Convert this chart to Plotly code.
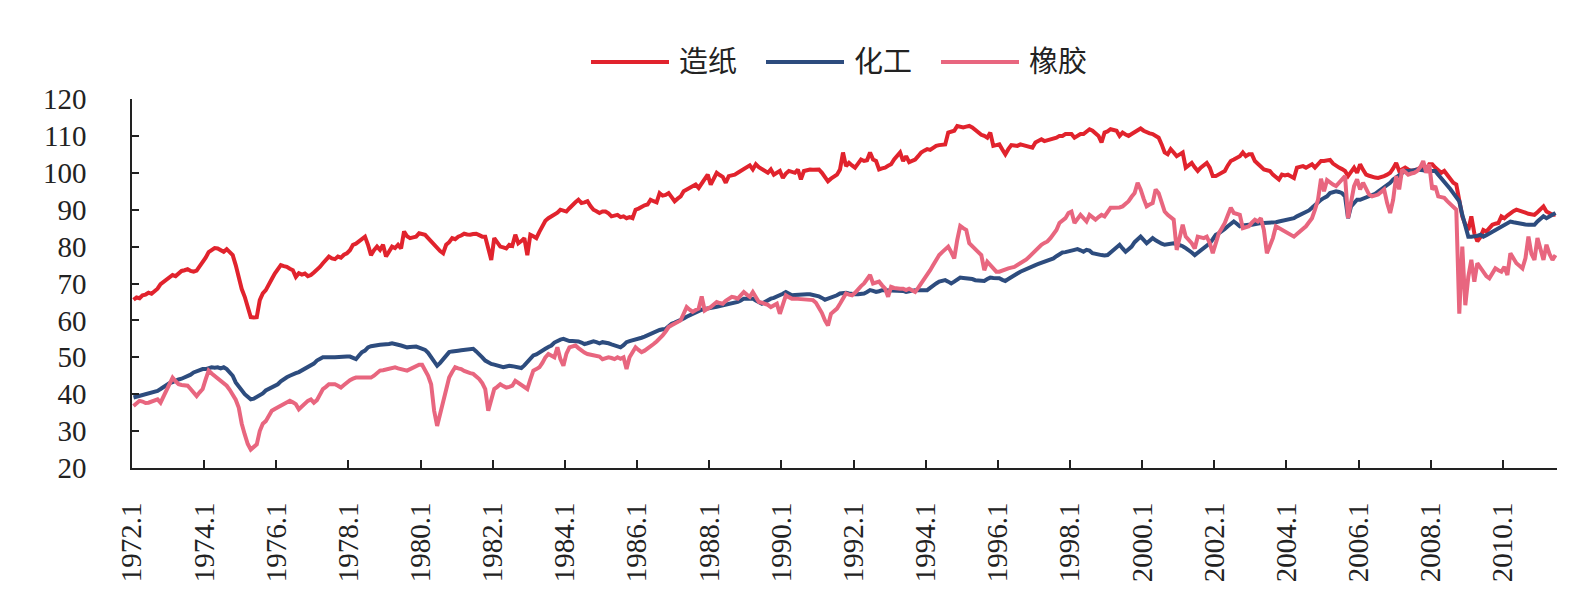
import plotly.graph_objects as go

# ---------------- data (monthly, 1972.1 - 2011.6) ----------------
start_year = 1972
series_names = ["造纸", "化工", "橡胶"]

paper = [
    65.6, 66.2, 66.0, 66.8, 67.0, 67.5, 67.2, 67.9, 68.6, 69.8, 70.5, 71.0,   # 1972
    71.8, 72.3, 72.0, 72.8, 73.4, 73.6, 73.9, 73.4, 73.2, 73.5, 74.6, 75.5,   # 1973
    77.0, 78.5, 79.1, 79.6, 79.5, 79.0, 78.6, 79.3, 78.5, 77.7, 75.0, 71.8,   # 1974
    68.5, 66.4, 63.5, 60.9, 60.8, 60.9, 65.5, 67.3, 68.2, 70.0, 71.2, 72.7,   # 1975
    73.8, 75.0, 74.7, 74.5, 74.0, 73.6, 71.8, 72.8, 72.4, 72.7, 72.0, 72.3,   # 1976
    73.0, 73.6, 74.5, 75.5, 76.5, 77.3, 76.8, 76.6, 77.3, 77.0, 77.8, 78.2,   # 1977
    79.0, 80.5, 80.8, 81.4, 81.8, 82.7, 80.5, 77.7, 79.0, 80.0, 79.1, 80.5,   # 1978
    77.3, 78.8, 80.0, 79.6, 80.5, 79.5, 84.1, 82.8, 82.3, 82.5, 82.7, 83.6,   # 1979
    83.4, 83.2, 82.3, 81.4, 80.5, 79.5, 78.8, 78.2, 80.5, 81.2, 82.3, 82.0,   # 1980
    82.7, 83.0, 83.5, 83.3, 83.2, 83.4, 83.5, 83.1, 82.7, 82.7, 80.0, 76.4,   # 1981
    82.3, 81.0, 80.0, 79.8, 79.5, 80.5, 80.2, 83.2, 80.9, 81.5, 82.3, 77.7,   # 1982
    83.2, 82.8, 82.3, 84.0, 85.5, 87.0, 87.7, 88.2, 88.6, 89.2, 90.0, 89.8,   # 1983
    89.5, 90.4, 91.4, 92.0, 92.7, 91.8, 92.0, 92.3, 91.0, 90.0, 89.6, 89.1,   # 1984
    89.5, 89.5, 89.0, 88.2, 88.4, 88.6, 88.0, 88.2, 87.7, 88.0, 87.7, 90.0,   # 1985
    90.3, 90.9, 91.2, 91.4, 92.7, 92.3, 92.0, 94.5, 93.8, 94.0, 94.5, 93.4,   # 1986
    92.3, 93.0, 93.6, 95.0, 95.4, 95.9, 96.4, 96.8, 95.9, 97.0, 98.2, 99.5,   # 1987
    96.8, 98.5, 100.0, 99.4, 98.9, 97.3, 99.1, 99.3, 99.5, 100.0, 100.5, 101.0,  # 1988
    101.4, 102.0, 100.9, 102.3, 101.5, 100.9, 100.4, 100.0, 100.9, 99.5, 100.0, 100.5,  # 1989
    98.6, 99.8, 100.5, 100.2, 100.0, 100.9, 98.2, 100.5, 100.7, 100.9, 100.8, 100.9,  # 1990
    100.9, 100.0, 98.6, 97.7, 98.4, 99.1, 99.5, 100.9, 105.5, 101.8, 102.7, 102.0,  # 1991
    101.4, 102.5, 103.6, 103.2, 103.4, 105.5, 103.6, 103.2, 100.9, 101.2, 101.4, 101.9,  # 1992
    102.3, 103.6, 104.5, 105.5, 103.2, 104.5, 102.9, 103.3, 103.6, 104.5, 105.5, 106.0,  # 1993
    106.4, 106.2, 106.8, 107.3, 107.5, 107.7, 107.7, 110.9, 111.2, 111.4, 112.7, 112.5,  # 1994
    112.3, 112.5, 112.7, 112.3, 111.6, 110.9, 110.3, 110.0, 109.5, 110.9, 107.3, 107.5,  # 1995
    107.7, 106.3, 105.0, 106.4, 107.5, 107.4, 107.3, 107.7, 107.5, 107.3, 107.0, 106.8,  # 1996
    108.2, 108.7, 109.1, 108.6, 108.8, 109.1, 109.3, 109.5, 110.0, 110.0, 110.5, 110.5,  # 1997
    110.5, 109.5, 110.0, 110.5, 110.5, 111.0, 111.8, 111.4, 110.5, 110.0, 108.2, 110.9,  # 1998
    111.2, 111.8, 111.6, 111.4, 110.0, 110.9, 110.4, 110.0, 110.5, 110.9, 111.5, 112.0,  # 1999
    111.4, 110.9, 110.7, 110.5, 110.0, 109.5, 107.7, 105.5, 105.0, 106.4, 105.5, 104.5,  # 2000
    105.0, 105.5, 101.4, 102.0, 102.7, 101.5, 100.5, 101.4, 102.0, 102.7, 101.4, 99.1,   # 2001
    99.1, 99.5, 99.8, 100.5, 102.0, 103.2, 103.6, 104.0, 104.5, 105.5, 104.5, 105.0,    # 2002
    105.0, 103.2, 102.5, 101.8, 100.9, 100.7, 100.5, 99.5, 99.0, 98.2, 99.5, 99.3,      # 2003
    99.5, 99.1, 98.6, 101.4, 101.6, 101.8, 101.4, 102.0, 102.3, 101.4, 102.3, 103.2,    # 2004
    103.2, 103.4, 103.5, 102.5, 101.8, 101.4, 101.0, 100.5, 99.1, 100.5, 101.4, 100.0,  # 2005
    102.3, 100.8, 99.5, 99.2, 98.9, 98.7, 98.6, 98.8, 99.1, 99.5, 100.0, 101.2,         # 2006
    102.7, 100.5, 101.0, 101.4, 100.9, 100.5, 100.7, 100.9, 101.4, 101.2, 100.9, 102.3, # 2007
    102.3, 101.4, 100.8, 100.0, 100.5, 99.5, 98.6, 97.3, 96.8, 92.7, 88.2, 86.0,        # 2008
    84.5, 88.2, 83.6, 81.4, 82.5, 84.5, 84.1, 85.0, 85.9, 86.2, 86.4, 88.2,             # 2009
    87.7, 88.4, 89.1, 89.6, 90.0, 89.8, 89.5, 89.2, 88.9, 88.7, 88.6, 89.3,             # 2010
    90.1, 90.9, 89.5, 89.0, 88.6, 88.6,                                                 # 2011
]

chemical = [
    39.1, 39.3, 39.5, 39.7, 40.0, 40.2, 40.4, 40.6, 40.9, 41.4, 42.0, 42.7,   # 1972
    43.0, 43.3, 43.8, 44.0, 44.2, 44.5, 44.8, 45.3, 45.9, 46.2, 46.5, 46.8,   # 1973
    46.8, 47.0, 47.3, 47.2, 47.3, 47.0, 47.3, 46.8, 45.9, 45.0, 43.2, 42.0,   # 1974
    40.8, 40.0, 39.3, 38.6, 38.8, 39.2, 39.5, 40.2, 41.0, 41.4, 42.0, 42.4,   # 1975
    42.7, 43.5, 44.2, 44.6, 45.0, 45.5, 45.7, 46.0, 46.5, 46.8, 47.2, 47.7,   # 1976
    48.3, 49.1, 49.5, 50.0, 50.0, 50.1, 50.0, 50.0, 50.1, 50.0, 50.2, 50.2,   # 1977
    50.2, 49.8, 49.5, 50.5, 51.4, 51.8, 52.7, 53.0, 53.2, 53.3, 53.4, 53.5,   # 1978
    53.5, 53.6, 53.8, 53.5, 53.4, 53.2, 53.0, 52.7, 52.8, 52.9, 52.9, 52.6,   # 1979
    52.3, 52.0, 51.2, 50.0, 49.0, 47.7, 48.5, 49.5, 50.5, 51.4, 51.6, 51.8,   # 1980
    51.8, 51.9, 52.0, 52.1, 52.3, 52.3, 51.6, 50.9, 50.0, 49.1, 48.6, 48.2,   # 1981
    48.0, 47.7, 47.5, 47.3, 47.5, 47.7, 47.6, 47.5, 47.4, 47.1, 47.8, 48.6,   # 1982
    49.5, 50.5, 50.8, 51.4, 51.8, 52.3, 52.8, 53.2, 54.0, 54.5, 54.8, 55.0,   # 1983
    54.7, 54.4, 54.4, 54.4, 54.3, 54.0, 53.6, 53.8, 54.1, 54.3, 54.1, 53.8,   # 1984
    54.1, 54.0, 53.8, 53.5, 53.2, 52.9, 52.7, 53.3, 54.1, 54.4, 54.6, 54.7,   # 1985
    54.9, 55.3, 55.6, 56.0, 56.4, 56.8, 57.3, 57.4, 57.6, 57.7, 58.4, 59.1,   # 1986
    59.4, 59.7, 60.0, 60.5, 61.0, 61.4, 61.8, 62.3, 62.7, 62.9, 63.1, 63.2,   # 1987
    63.4, 63.6, 63.7, 63.9, 64.1, 64.2, 64.4, 64.5, 64.7, 65.0, 65.4, 65.9,   # 1988
    65.9, 65.9, 65.9, 65.4, 64.9, 64.5, 65.0, 65.5, 65.9, 66.1, 66.4, 66.8,   # 1989
    67.2, 67.7, 67.3, 66.8, 66.9, 67.0, 67.1, 67.1, 67.1, 67.1, 66.9, 66.8,   # 1990
    66.5, 66.1, 65.6, 65.9, 66.2, 66.4, 66.8, 67.3, 67.4, 67.5, 67.3, 67.1,   # 1991
    67.1, 67.1, 67.2, 67.3, 67.7, 68.2, 68.0, 67.7, 67.9, 68.2, 68.2, 68.2,   # 1992
    68.2, 68.2, 68.2, 68.2, 68.0, 67.7, 67.9, 68.0, 68.2, 68.2, 68.2, 68.2,   # 1993
    68.2, 68.8, 69.5, 70.0, 70.5, 70.7, 70.9, 70.5, 70.0, 70.5, 71.0, 71.6,   # 1994
    71.5, 71.4, 71.4, 71.2, 70.9, 70.8, 70.7, 70.7, 71.2, 71.6, 71.5, 71.4,   # 1995
    71.4, 71.0, 70.7, 71.2, 71.8, 72.2, 72.7, 73.2, 73.6, 74.1, 74.4, 74.7,   # 1996
    75.0, 75.3, 75.6, 75.9, 76.2, 76.5, 76.8, 77.4, 78.0, 78.4, 78.5, 78.6,   # 1997
    78.9, 79.1, 79.3, 79.0, 78.6, 79.1, 78.9, 78.2, 78.0, 77.7, 77.7, 77.6,   # 1998
    77.7, 78.4, 79.1, 79.8, 80.5, 79.5, 78.6, 79.3, 80.0, 81.2, 82.0, 82.7,   # 1999
    81.8, 80.9, 81.6, 82.3, 81.7, 81.1, 80.8, 80.5, 80.7, 80.9, 80.9, 80.7,   # 2000
    80.5, 80.1, 79.6, 79.1, 78.4, 77.7, 78.4, 79.1, 79.7, 80.3, 80.9, 82.0,   # 2001
    83.2, 83.6, 84.1, 84.8, 85.5, 86.1, 86.8, 86.2, 85.5, 85.7, 85.9, 85.9,   # 2002
    85.9, 86.1, 86.2, 86.4, 86.4, 86.4, 86.5, 86.5, 86.6, 86.8, 87.0, 87.3,   # 2003
    87.3, 87.5, 87.7, 88.2, 88.6, 88.9, 89.1, 89.8, 90.5, 91.2, 92.2, 92.7,   # 2004
    93.2, 93.6, 94.5, 94.8, 95.0, 94.8, 94.5, 93.6, 87.7, 90.9, 92.0, 92.7,   # 2005
    92.7, 93.0, 93.3, 93.6, 93.9, 94.3, 94.9, 95.5, 96.0, 96.4, 97.3, 98.2,   # 2006
    98.8, 99.5, 100.0, 100.5, 100.5, 100.5, 100.7, 100.9, 100.9, 100.7, 100.5, 100.5,  # 2007
    100.5, 100.5, 99.5, 98.6, 97.7, 96.8, 95.6, 94.5, 93.4, 92.3, 88.6, 85.5,  # 2008
    82.7, 82.7, 82.7, 82.9, 83.2, 82.7, 83.1, 83.6, 84.1, 84.5, 85.0, 85.5,   # 2009
    85.9, 86.4, 86.8, 86.6, 86.4, 86.3, 86.2, 86.0, 85.9, 85.9, 85.9, 86.8,   # 2010
    87.5, 88.2, 87.7, 88.2, 88.6, 89.1,                                       # 2011
]

rubber = [
    36.8, 37.5, 38.2, 38.0, 37.6, 37.7, 38.0, 38.3, 38.6, 37.7, 39.5, 41.4,   # 1972
    43.0, 44.5, 43.5, 42.7, 42.5, 42.3, 42.3, 41.4, 40.5, 39.5, 40.5, 41.4,   # 1973
    44.0, 46.4, 45.6, 45.0, 44.2, 43.6, 43.0, 42.3, 41.2, 40.0, 38.5, 36.4,   # 1974
    32.0, 29.1, 26.5, 25.0, 25.6, 26.4, 30.0, 32.0, 32.7, 34.0, 35.5, 36.0,   # 1975
    36.4, 36.8, 37.3, 37.6, 38.2, 37.8, 37.3, 35.9, 36.8, 37.7, 38.2, 38.6,   # 1976
    37.7, 38.4, 40.0, 41.4, 42.0, 42.7, 42.7, 42.7, 42.3, 41.8, 42.5, 43.3,   # 1977
    43.8, 44.2, 44.5, 44.5, 44.5, 44.4, 44.5, 44.5, 45.0, 45.7, 46.4, 46.5,   # 1978
    46.7, 46.8, 47.0, 47.3, 47.0, 46.8, 46.6, 46.4, 46.8, 47.3, 47.6, 48.0,   # 1979
    48.0, 46.4, 45.0, 42.7, 35.5, 31.4, 34.5, 38.2, 41.5, 44.5, 46.0, 47.3,   # 1980
    47.0, 46.8, 46.3, 45.9, 45.7, 45.5, 44.8, 44.1, 43.0, 41.4, 35.5, 38.5,   # 1981
    41.4, 42.0, 42.7, 42.2, 41.8, 42.0, 42.3, 43.6, 43.1, 42.7, 42.0, 41.4,   # 1982
    44.0, 46.4, 46.8, 47.3, 48.5, 50.0, 50.9, 50.4, 50.0, 52.7, 49.5, 47.7,   # 1983
    51.0, 52.7, 53.0, 53.2, 52.5, 51.8, 51.3, 50.9, 50.7, 50.5, 50.5, 50.2,   # 1984
    49.5, 49.8, 50.0, 49.8, 49.5, 50.0, 49.6, 50.0, 46.8, 50.0, 51.5, 52.7,   # 1985
    52.0, 51.4, 51.8, 52.3, 53.0, 53.6, 54.3, 55.0, 55.9, 57.0, 58.2, 58.7,   # 1986
    59.1, 59.5, 60.0, 61.8, 63.6, 62.9, 62.3, 62.8, 63.2, 66.5, 62.7, 63.2,   # 1987
    63.6, 64.3, 65.0, 64.7, 64.5, 65.3, 65.9, 66.4, 66.2, 65.9, 66.8, 67.7,   # 1988
    67.0, 66.4, 67.7, 66.5, 65.0, 64.8, 64.5, 64.2, 63.6, 64.0, 64.5, 61.8,   # 1989
    64.5, 66.8, 66.3, 65.9, 65.9, 65.8, 65.9, 65.7, 65.5, 65.5, 65.5, 64.8,   # 1990
    63.6, 62.0, 60.0, 58.6, 61.8, 62.5, 63.2, 64.5, 66.0, 67.3, 67.0, 66.8,   # 1991
    67.5, 68.6, 69.3, 70.0, 71.0, 72.3, 70.0, 70.2, 70.5, 69.5, 68.6, 66.4,   # 1992
    69.1, 68.8, 68.6, 68.6, 68.6, 68.2, 68.6, 68.2, 67.7, 68.8, 70.0, 70.9,   # 1993
    72.0, 73.6, 75.0, 76.4, 77.7, 78.5, 79.1, 80.0, 78.5, 76.8, 81.8, 85.6,   # 1994
    85.0, 84.5, 80.9, 80.2, 79.5, 78.5, 77.7, 73.6, 75.9, 75.0, 74.0, 73.2,   # 1995
    73.2, 73.6, 73.8, 74.1, 74.3, 74.5, 75.0, 75.5, 75.9, 76.5, 77.3, 78.2,   # 1996
    79.1, 80.0, 80.5, 81.0, 81.4, 82.3, 83.2, 84.5, 86.4, 87.0, 87.7, 89.1,   # 1997
    89.5, 86.4, 87.6, 88.6, 87.7, 86.8, 88.6, 88.0, 87.3, 88.0, 88.6, 88.2,   # 1998
    89.5, 90.5, 90.5, 90.5, 90.6, 90.9, 91.5, 92.3, 93.5, 94.5, 97.3, 95.5,   # 1999
    93.0, 90.9, 91.4, 91.8, 95.5, 94.5, 92.0, 89.5, 88.6, 88.0, 87.3, 79.1,   # 2000
    82.7, 85.9, 82.7, 81.8, 80.9, 79.5, 82.7, 82.5, 82.3, 82.7, 80.9, 78.2,   # 2001
    81.0, 83.6, 85.0, 86.4, 88.5, 90.5, 89.1, 88.8, 88.6, 85.0, 85.3, 85.5,   # 2002
    86.5, 87.3, 86.8, 87.7, 84.5, 78.2, 80.2, 82.3, 85.5, 85.0, 84.5, 84.0,   # 2003
    83.6, 83.2, 82.7, 83.4, 84.1, 84.8, 85.5, 86.6, 87.7, 90.0, 92.7, 98.4,   # 2004
    95.0, 98.0, 97.3, 96.8, 96.4, 97.2, 98.2, 99.1, 87.7, 92.0, 96.4, 98.2,   # 2005
    95.5, 97.3, 95.8, 94.1, 93.6, 93.8, 94.1, 94.8, 95.5, 91.8, 89.1, 92.7,   # 2006
    99.1, 95.5, 100.9, 100.2, 99.5, 99.8, 100.0, 100.5, 101.5, 103.2, 100.0, 102.3,  # 2007
    95.5, 96.4, 93.6, 93.4, 93.2, 92.3, 91.4, 90.9, 90.0, 61.8, 80.0, 64.1,   # 2008
    71.8, 76.4, 70.5, 75.5, 74.3, 73.2, 72.0, 71.4, 72.8, 74.1, 73.6, 73.2,   # 2009
    74.5, 72.3, 78.2, 76.8, 75.5, 74.8, 74.1, 76.8, 82.7, 78.0, 76.4, 82.3,   # 2010
    79.0, 76.4, 80.5, 78.0, 76.4, 77.7,                                       # 2011
]

tick_years = list(range(1972, 2011, 2))
tick_labels = [f"{y}.1" for y in tick_years]

# ---------------- figure ----------------
colors = ["#E1232D", "#2D4C7E", "#E8667F"]
n = len(paper)
x_pos = [i + 0.5 for i in range(n)]
tick_pos = [(y - start_year) * 12 for y in tick_years]

W, H = 1586, 600
ML, MR, MT, MB = 132, 29, 99, 132
PW, PH = W - ML - MR, H - MT - MB

fig = go.Figure()
for name, vals, c in zip(series_names, [paper, chemical, rubber], colors):
    fig.add_trace(go.Scatter(x=x_pos, y=vals, mode="lines", name=name,
                             line=dict(color=c, width=4), showlegend=False))


def px_x(p):
    return (p - ML) / PW


def px_y(p):
    return (H - MB - p) / PH


# manual legend (long line samples like the reference)
legend_items = [(591, 669, 677), (766, 844, 852), (941, 1019, 1027)]
for (x1, x2, xt), name, c in zip(legend_items, series_names, colors):
    fig.add_shape(type="line", xref="paper", yref="paper",
                  x0=px_x(x1), x1=px_x(x2), y0=px_y(62), y1=px_y(62),
                  line=dict(color=c, width=4))
    fig.add_annotation(xref="paper", yref="paper", x=px_x(xt), y=px_y(59),
                       xanchor="left", yanchor="middle", showarrow=False,
                       text=name,
                       font=dict(family="Noto Sans CJK SC", size=29, color="#222222"))

tick_font = dict(family="Liberation Serif", size=29, color="#222222")
fig.update_layout(
    width=W, height=H,
    margin=dict(l=ML, r=MR, t=MT, b=MB, autoexpand=False),
    plot_bgcolor="white", paper_bgcolor="white",
    xaxis=dict(range=[0, n], tickmode="array", tickvals=tick_pos, ticktext=tick_labels,
               tickangle=-90, ticks="inside", ticklen=8, tickwidth=1.5, tickcolor="#222",
               showline=True, linecolor="#222", linewidth=1.6, showgrid=False,
               zeroline=False, tickfont=tick_font, ticklabelstandoff=21, automargin=False),
    yaxis=dict(range=[20, 120], tickmode="array", tickvals=list(range(20, 121, 10)),
               ticks="inside", ticklen=7, tickwidth=1.5, tickcolor="#222",
               showline=True, linecolor="#222", linewidth=1.6, showgrid=False,
               zeroline=False, tickfont=tick_font, ticklabelstandoff=38, automargin=False),
)

fig.write_html("out.html")
